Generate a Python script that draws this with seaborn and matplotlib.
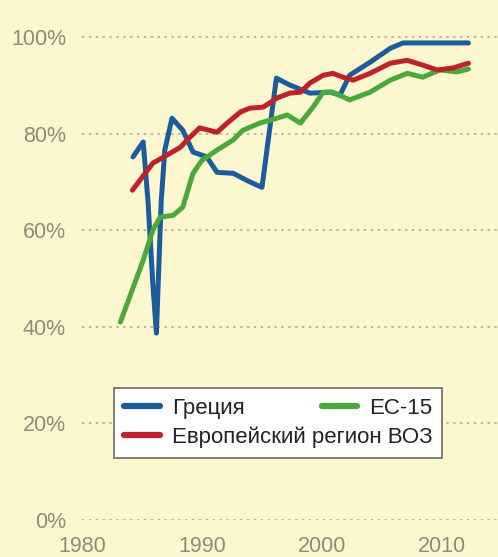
import matplotlib
matplotlib.use("Agg")
import matplotlib.pyplot as plt
from matplotlib.lines import Line2D
import seaborn as sns
import pandas as pd

# Share of population covered (%), by year
greece_years = [1984.25, 1985.1, 1985.5, 1985.9, 1986.2, 1986.6, 1986.9, 1987.5,
                1988.4, 1989.25, 1990.4, 1991.25, 1992.6, 1994.0, 1995.0, 1996.2,
                1997.3, 1999.0, 2000.7, 2001.5, 2002.3, 2004.0, 2005.7, 2006.75, 2012.2]
greece_values = [75.2, 78.3, 66.0, 49.0, 38.7, 66.0, 76.6, 83.2,
                 80.7, 76.2, 75.2, 72.0, 71.8, 70.0, 68.9, 91.5,
                 90.1, 88.4, 88.6, 88.0, 92.1, 94.8, 97.7, 98.8, 98.8]

eu15_years = [1983.2, 1985.1, 1985.9, 1986.5, 1987.6, 1988.4, 1989.25, 1990.0,
              1991.25, 1992.6, 1993.4, 1994.8, 1996.25, 1997.1, 1998.2, 1999.25,
              2000.1, 2000.9, 2002.3, 2004.0, 2005.7, 2007.1, 2008.4, 2009.8,
              2011.25, 2012.2]
eu15_values = [41.0, 53.8, 60.0, 62.7, 63.1, 64.8, 71.8, 74.5,
               76.6, 78.7, 80.7, 82.2, 83.2, 83.9, 82.2, 85.5,
               88.6, 88.6, 87.0, 88.6, 91.1, 92.5, 91.7, 93.2,
               92.8, 93.4]

who_years = [1984.2, 1985.9, 1987.1, 1988.2, 1989.0, 1989.8, 1991.25, 1992.1,
             1993.2, 1994.0, 1995.1, 1996.25, 1997.3, 1998.2, 1999.0, 2000.1,
             2000.9, 2001.75, 2002.6, 2004.0, 2005.7, 2007.1, 2008.4, 2009.6,
             2010.9, 2012.2]
who_values = [68.3, 73.9, 75.6, 77.2, 79.3, 81.2, 80.3, 82.2,
              84.5, 85.3, 85.5, 87.4, 88.4, 88.6, 90.5, 92.1,
              92.5, 91.7, 91.1, 92.5, 94.6, 95.2, 94.2, 93.2,
              93.6, 94.6]

series_names = ["Греция", "ЕС-15", "Европейский регион ВОЗ"]
series_colors = ["#1b5c9e", "#4aa93a", "#c01f2c"]
y_ticks = [0, 20, 40, 60, 80, 100]
y_tick_labels = ["0%", "20%", "40%", "60%", "80%", "100%"]
x_ticks = [1980, 1990, 2000, 2010]

frames = []
for name, xs, ys in zip(series_names,
                        [greece_years, eu15_years, who_years],
                        [greece_values, eu15_values, who_values]):
    frames.append(pd.DataFrame({"year": xs, "value": ys, "series": name}))
df = pd.concat(frames, ignore_index=True)

sns.set_style("white")
bg = "#fdf7cf"
tick_color = "#8f8c78"
grid_color = "#aaa28a"
plt.rcParams["font.family"] = ["Liberation Sans", "DejaVu Sans"]

W, H = 498, 557
fig = plt.figure(figsize=(W / 100, H / 100), dpi=100, facecolor=bg)
ax = fig.add_axes([82 / W, 37 / H, (W - 82) / W, (520 - 13) / H])
ax.set_facecolor(bg)

palette = dict(zip(series_names, series_colors))
sns.lineplot(data=df, x="year", y="value", hue="series", palette=palette,
             estimator=None, sort=False, linewidth=3.6, legend=False, ax=ax,
             zorder=3)
for ln in ax.lines:
    ln.set_solid_joinstyle("round")
    ln.set_solid_capstyle("round")

ax.set_xlim(1980, 1980 + (W - 82) / 12)
ax.set_ylim(0, 105)
for s in ax.spines.values():
    s.set_visible(False)

ax.set_yticks(y_ticks)
ax.set_yticklabels(y_tick_labels)
ax.set_xticks(x_ticks)
ax.set_xticklabels([str(v) for v in x_ticks])
ax.set_xticks([1985, 1995, 2005], minor=True)
ax.tick_params(axis="y", length=0, pad=11.5, labelsize=15.5, labelcolor=tick_color)
ax.tick_params(axis="x", which="both", direction="inout", length=5, width=1,
               color=grid_color, pad=9, labelsize=15.5, labelcolor=tick_color)
ax.set_xlabel("")
ax.set_ylabel("")
ax.yaxis.grid(True, linestyle=(0, (1.5, 3)), color=grid_color, linewidth=1.1)
ax.xaxis.grid(False)
ax.set_axisbelow(True)

# Legend: two entries in the left column, the EU-15 entry top right
h_greece = Line2D([], [], color=series_colors[0], linewidth=4.5)
h_who = Line2D([], [], color=series_colors[2], linewidth=4.5)
h_eu = Line2D([], [], color=series_colors[1], linewidth=4.5)
anchor_left = (114 / W, 1 - 388 / H)
leg_kw = dict(borderaxespad=0, fontsize=16, handlelength=1.6, handletextpad=0.55,
              borderpad=0.45, labelcolor="#222222", bbox_transform=fig.transFigure)
leg1 = ax.legend([h_greece, h_who], [series_names[0], series_names[2]],
                 loc="upper left", bbox_to_anchor=anchor_left,
                 labelspacing=0.35, frameon=True, fancybox=False,
                 framealpha=1, edgecolor="#77766a", **leg_kw)
leg1.get_frame().set_linewidth(1.3)
leg1.set_zorder(5)
ax.add_artist(leg1)
fig.canvas.draw()
bb = leg1.get_window_extent()
leg2 = ax.legend([h_eu], [series_names[1]],
                 loc="upper right", bbox_to_anchor=(bb.x1 / W, bb.y1 / H),
                 frameon=False, **leg_kw)
leg2.set_zorder(6)

fig.savefig("out.png", dpi=100, facecolor=bg)
